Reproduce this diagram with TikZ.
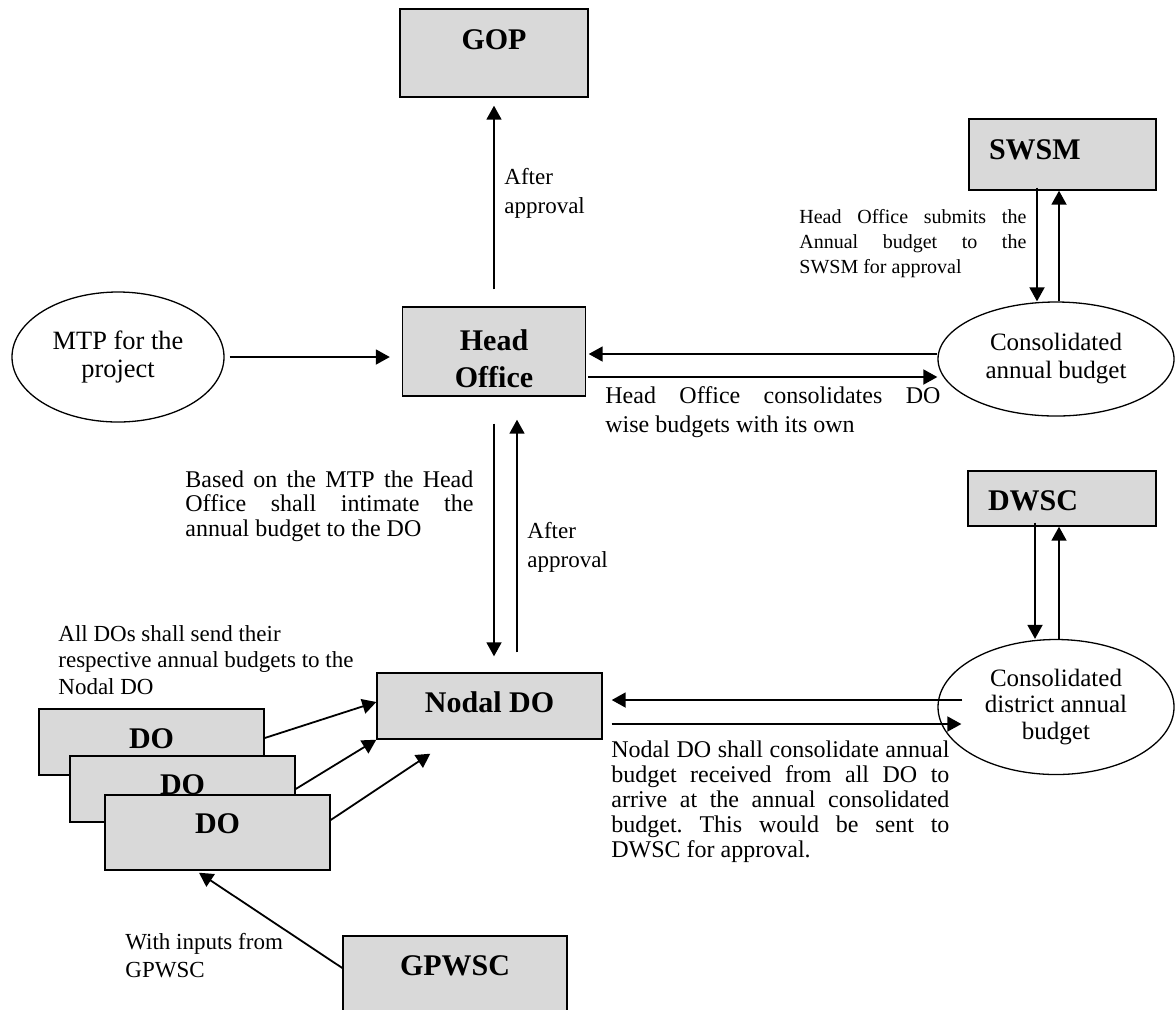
\documentclass[tikz,border=0pt]{standalone}
\usepackage{fontspec}
\setmainfont{Liberation Serif}
\usetikzlibrary{positioning,calc,arrows.meta,shapes.geometric}
\definecolor{boxgray}{RGB}{217,217,217}
\frenchspacing
\tikzset{
	box/.style={draw, line width=0.7pt, fill=boxgray, minimum width=112.5pt, font=\fontsize{15}{18.5}\selectfont\bfseries},
	oval/.style={draw, ellipse, line width=0.65pt, align=center, font=\fontsize{12.5}{14}\selectfont},
	arr/.style={-{Triangle[length=7pt,width=7.5pt]}, line width=0.9pt},
	note/.style={anchor=west, font=\fontsize{12}{14.5}\selectfont},
}

\begin{document}
\begin{tikzpicture}[x=0.5pt, y=-0.5pt]
	\useasboundingbox (0,0) rectangle (1176,1009);
	\begin{scope}
		\tikzstyle{every node}=[inner sep=0pt]
		\node[box, minimum width=94pt, text height=20pt, text depth=24pt] (gop) at (494,53) {GOP};
		\node[box, minimum width=91.5pt, align=center, text height=40pt, text depth=4.5pt] (ho) at (494,351.5) {Head\\Office};
		\node[box, minimum width=93.5pt, inner xsep=10pt, text width=73.5pt, align=left, text height=20pt, text depth=15.5pt] (swsm) at (1062.5,154.5) {SWSM};
		\node[box, minimum width=94pt, inner xsep=10pt, text width=74pt, align=left, text height=19.5pt, text depth=8pt] (dwsc) at (1062,498.5) {DWSC};
		\node[box, text height=19.5pt, text depth=13.5pt] (ndo) at (489.5,706) {Nodal DO};
		\node[box, text height=19.5pt, text depth=13.5pt] (do1) at (151.5,742) {DO};
		\node[box, text height=19pt, text depth=14pt] (do2) at (182.5,789) {DO};
		\node[box, text height=19pt, text depth=18.5pt] (do3) at (217.5,832.5) {DO};
		\node[box, minimum width=112pt, text height=19.5pt, text depth=19.5pt] (gpwsc) at (455,975) {GPWSC};

		\node[oval, minimum width=106pt, minimum height=65pt, font=\fontsize{13.2}{14}\selectfont] (mtp) at (118,357) {MTP for the\\project};
		\node[oval, minimum width=118pt, minimum height=57pt] (cab) at (1056,359) {Consolidated\\annual budget};
		\node[oval, minimum width=118pt, minimum height=67.5pt, font=\fontsize{12.5}{13.25}\selectfont] (cdab) at (1056,707) {Consolidated\\district annual\\budget};

		\node[note, align=left, font=\fontsize{11.5}{14.5}\selectfont] (gopnote) at (504,193) {After\\approval};
		\node[note, text width=113.5pt, align=justify, font=\fontsize{10}{12.5}\selectfont] (swsmnote) at (799,244) {Head Office submits the\linebreak Annual budget to the\linebreak SWSM for approval};
		\node[note, text width=167.5pt, align=justify] (honote) at (605,412) {Head Office consolidates DO\linebreak wise budgets with its own};
		\node[note, text width=144pt, align=justify, font=\fontsize{12}{12.2}\selectfont] (basednote) at (185,506) {Based on the MTP the Head\linebreak Office shall intimate the\linebreak annual budget to the DO};
		\node[note, align=left, font=\fontsize{11.5}{14.5}\selectfont] (ndonote) at (527,547.5) {After\\approval};
		\node[note, align=left, font=\fontsize{11.5}{13.3}\selectfont] (dosnote) at (58,660) {All DOs shall send their\\respective annual budgets to the\\Nodal DO};
		\node[note, text width=169pt, align=justify, font=\fontsize{12}{12.5}\selectfont] (cdabnote) at (611,802) {Nodal DO shall consolidate annual\linebreak budget received from all DO to\linebreak arrive at the annual consolidated\linebreak budget. This would be sent to\linebreak DWSC for approval.};
		\node[note, align=left, font=\fontsize{11.5}{14}\selectfont] (gpwscnote) at (125,956) {With inputs from\\GPWSC};

		% head office and its partners
		\draw[arr, shorten <=8.5pt, shorten >=4pt] (ho.north) -- (gop.south);
		\draw[arr, shorten <=2.5pt, shorten >=6pt] (mtp.east) -- (mtp.east -| ho.west);
		\draw[arr, shorten >=1.25pt] ($(cab.west)+(0,-5)$) -- ($(cab.west -| ho.east)+(0,-5)$);
		\draw[arr, shorten <=1pt] ($(ho.east)+(0,25.5)$) -- ($(ho.east -| cab.west)+(0,25.5)$);
		\draw[arr] ($(swsm.south)+(-25.5,-3)$) -- ($(swsm.south |- cab.north)+(-25.5,0)$);
		\draw[arr] ($(cab.north -| swsm.south)+(-3.5,0)$) -- ($(swsm.south)+(-3.5,0)$);

		% nodal DO and district
		\draw[arr, shorten <=13.5pt, shorten >=8pt] (ho.south) -- (ho.south |- ndo.north);
		\draw[arr, shorten <=10pt, shorten >=11.5pt] ($(ho.south |- ndo.north)+(23,0)$) -- ($(ho.south)+(23,0)$);
		\draw[arr] ($(dwsc.south)+(-27,-4)$) -- ($(dwsc.south |- cdab.north)+(-27,0)$);
		\draw[arr] ($(cdab.north -| dwsc.south)+(-3,0)$) -- ($(dwsc.south)+(-3,0)$);
		\draw[arr] ($(cdab.west)+(25,-7)$) -- ($(ndo.east)+(9,-6)$);
		\draw[arr] ($(ndo.east)+(9,18)$) -- ($(cdab.west)+(24,17)$);

		% DOs
		\draw[arr] ($(do1.east)+(0,-4)$) -- ($(ndo.west)+(0,-4)$);
		\draw[arr] (do2.east) -- (ndo.south west);
		\draw[arr] ($(do3.east)+(0,-12.5)$) -- ($(ndo.south west)+(54,14)$);
		\draw[arr] ($(gpwsc.west)+(0,-7)$) -- ($(do3.south)+(-18.5,2)$);
	\end{scope}
\end{tikzpicture}
\end{document}
